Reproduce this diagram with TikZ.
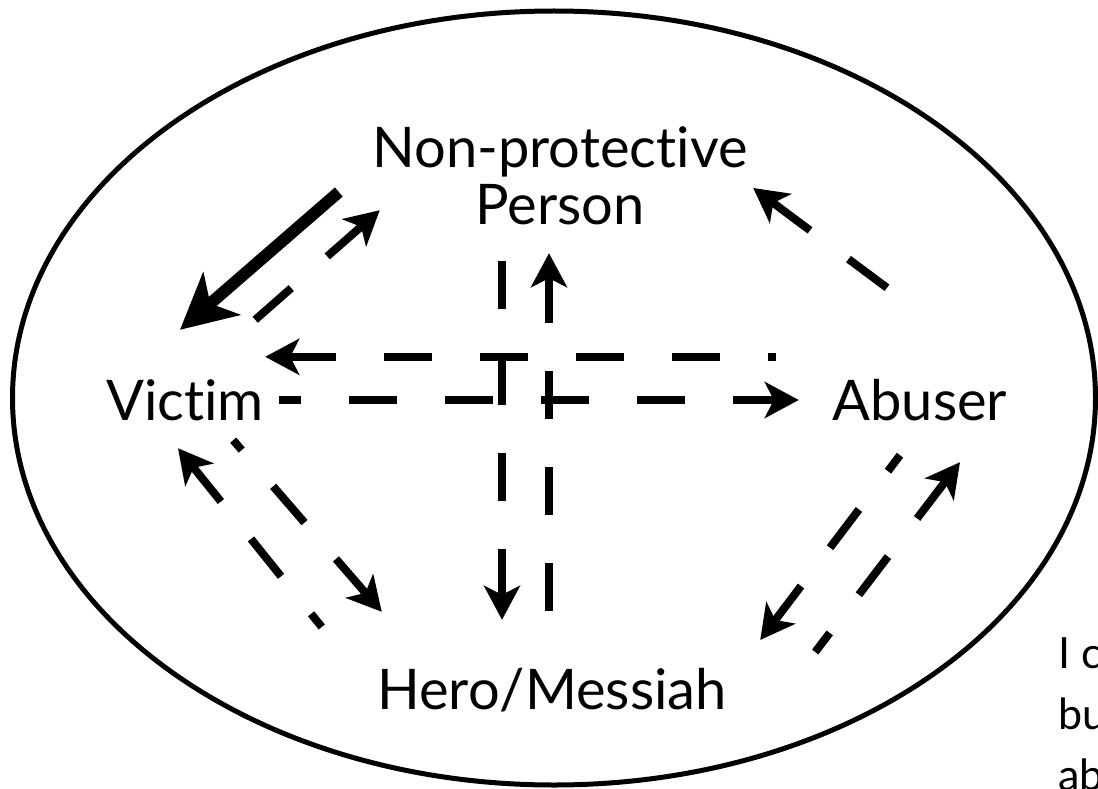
\documentclass[tikz,border=0pt]{standalone}
\usepackage{fontspec}
\setmainfont{Lato}[Ligatures={NoCommon,NoRequired,NoContextual}]
\usepackage{tikz}
\usetikzlibrary{
  positioning,
  arrows.meta
}
\tikzset{
  >=Stealth,
  role/.style={rectangle,inner sep=0pt,align=center,font=\fontsize{56}{57}\selectfont},
  dasharrow/.style={-{Stealth[length=34pt,width=36pt,inset=9pt]},line width=8pt,dash pattern=on 48pt off 48pt},
  heavyarrow/.style={-{Stealth[length=55pt,width=56pt,inset=15pt]},line width=12pt}
}

\begin{document}
\begin{tikzpicture}[x=1pt,y=-1pt]
    \useasboundingbox (0,0) rectangle (1098,789);
    % outer ring
    \draw[line width=5pt] (554,398) ellipse [x radius=541.5,y radius=387];

    % roles
    \node[role,minimum width=440pt,minimum height=130pt] (np) at (560,176) {Non-protective\\Person};
    \node[role,minimum width=170pt,minimum height=80pt] (victim) at (185,400) {Victim};
    \node[role,minimum width=220pt,minimum height=80pt] (abuser) at (920,400) {Abuser};
    \node[role,minimum width=370pt,minimum height=80pt] (hero) at (552,690) {Hero/Messiah};
    \node[anchor=north west,inner sep=0pt,align=left,font=\fontsize{43}{61}\selectfont] (note) at (1058,637) {I c\\bu\\ab};

    % links
    \draw[heavyarrow] ([shift={(-1,16)}]np.west) -- ([shift={(-5,-30)}]victim.north);
    \draw[dasharrow] ([shift={(-15,-40)}]victim.north east) -- ([shift={(40,-31)}]np.south west);
    \draw[dasharrow] ([shift={(-33,-72)}]abuser.north) -- ([shift={(-27,12)}]np.east);
    \draw[dasharrow,dash phase=40pt] ([shift={(-34,-3)}]abuser.north west) -- ([shift={(-5,-3)}]victim.north east);
    \draw[dasharrow,dash phase=26pt] ([shift={(9,0)}]victim.east) -- ([shift={(-11,0)}]abuser.west);
    \draw[dasharrow] ([shift={(-58,20)}]np.south) -- ([shift={(-50,-30)}]hero.north);
    \draw[dasharrow] ([shift={(-3,-39)}]hero.north) -- ([shift={(-11,12)}]np.south);
    \draw[dasharrow,dash phase=31pt] ([shift={(-45,-63)}]hero.west) -- ([shift={(-7,8)}]victim.south);
    \draw[dasharrow,dash phase=35pt] ([shift={(-37,0)}]victim.south east) -- ([shift={(15,-38)}]hero.north west);
    \draw[dasharrow,dash phase=28pt] ([shift={(-20,15)}]abuser.south) -- ([shift={(23,-50)}]hero.east);
    \draw[dasharrow,dash phase=24pt] ([shift={(78,-38)}]hero.east) -- ([shift={(40,22)}]abuser.south);
\end{tikzpicture}
\end{document}
